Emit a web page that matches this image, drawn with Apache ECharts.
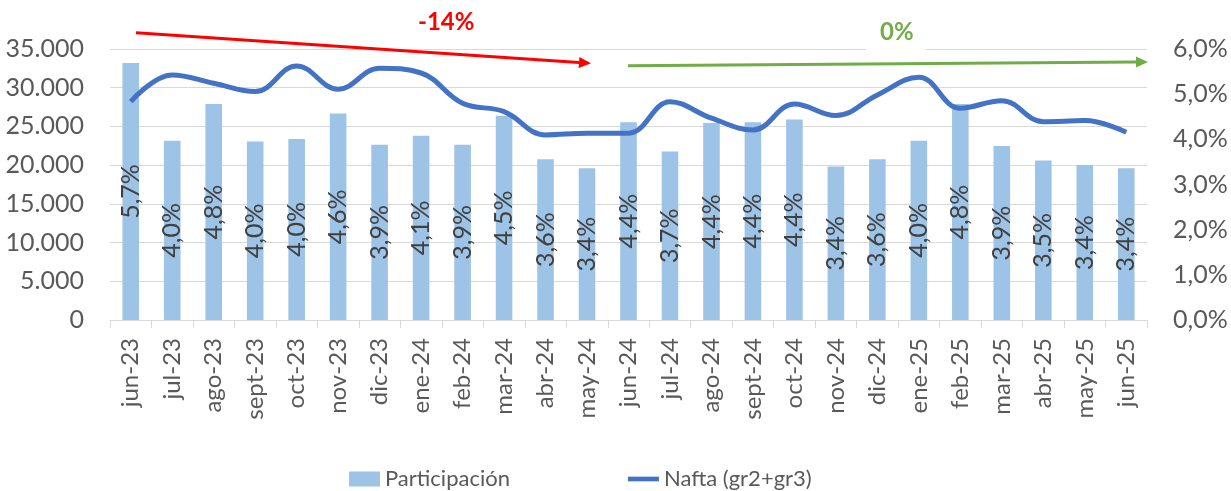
<!DOCTYPE html>
<html>
<head>
<meta charset="utf-8">
<script src="https://cdn.jsdelivr.net/npm/echarts@6/dist/echarts.min.js"></script>
<style>
html,body{margin:0;padding:0;background:#fff;}
#chart{width:1231px;height:491px;}
</style>
</head>
<body>
<div id="chart"></div>
<script>
const categories = ['jun-23','jul-23','ago-23','sept-23','oct-23','nov-23','dic-23','ene-24','feb-24','mar-24','abr-24','may-24','jun-24','jul-24','ago-24','sept-24','oct-24','nov-24','dic-24','ene-25','feb-25','mar-25','abr-25','may-25','jun-25'];
const participacion = [5.69,3.97,4.78,3.95,4.01,4.57,3.88,4.08,3.88,4.52,3.56,3.36,4.38,3.73,4.36,4.38,4.44,3.40,3.56,3.97,4.78,3.85,3.53,3.43,3.36];
const nafta = [28200,31650,30580,29500,32820,29800,32520,31900,28000,26910,23900,24120,24120,28200,26060,24550,27900,26400,29070,31360,27350,28330,25620,25750,24250];
const seriesNames = ['Participación','Nafta (gr2+gr3)'];
const annotations = ['-14%','0%'];

const FONT = 'Lato, "Open Sans", sans-serif';
const chart = echarts.init(document.getElementById('chart'), null, {renderer:'canvas'});

function arrow(x1,y1,x2,y2,color){
  const ang = Math.atan2(y2-y1,x2-x1);
  const L = 12, W = 5.5;
  const bx = x2 - L*Math.cos(ang), by = y2 - L*Math.sin(ang);
  const px = -Math.sin(ang)*W, py = Math.cos(ang)*W;
  return [
    {type:'line', shape:{x1:x1,y1:y1,x2:bx,y2:by}, style:{stroke:color,lineWidth:3}, z:100},
    {type:'polygon', shape:{points:[[x2,y2],[bx+px,by+py],[bx-px,by-py]]}, style:{fill:color}, z:100}
  ];
}

const option = {
  backgroundColor:'#ffffff',
  animation:false,
  textStyle:{fontFamily:FONT},
  grid:{left:110, right:84, top:49, bottom:171, containLabel:false},
  legend:{
    left:344, top:463,
    itemWidth:31, itemHeight:15, itemGap:118,
    textStyle:{color:'#595959', fontSize:22, fontFamily:FONT},
    data:[{name:seriesNames[0], icon:'rect'},
          {name:seriesNames[1], icon:'path://M0,0 L33,0 L33,5 L0,5 Z'}]
  },
  xAxis:{
    type:'category', data:categories, boundaryGap:true,
    axisLine:{lineStyle:{color:'#D9D9D9', width:1}},
    axisTick:{show:true, length:8, lineStyle:{color:'#D9D9D9'}},
    axisLabel:{rotate:90, color:'#595959', fontSize:24, margin:18, fontFamily:FONT, interval:0}
  },
  yAxis:[
    {type:'value', min:0, max:35000, interval:5000, position:'left',
     axisLine:{show:false}, axisTick:{show:false},
     splitLine:{lineStyle:{color:'#D9D9D9', width:1}},
     axisLabel:{color:'#595959', fontSize:25, margin:26, fontFamily:FONT,
       formatter:v=>v===0?'0':String(v).replace(/\B(?=(\d{3})+(?!\d))/g,'.')}},
    {type:'value', min:0, max:6, interval:1, position:'right',
     axisLine:{show:false}, axisTick:{show:false}, splitLine:{show:false},
     axisLabel:{color:'#595959', fontSize:25, margin:26, fontFamily:FONT,
       formatter:v=>v.toFixed(1).replace('.',',')+'%'}}
  ],
  series:[
    {name:seriesNames[0], type:'bar', yAxisIndex:1, data:participacion, barWidth:'40%',
     itemStyle:{color:'#9DC3E6'},
     label:{show:true, position:'inside', rotate:90, color:'#404040', fontSize:25, fontFamily:FONT,
       formatter:p=>p.value.toFixed(1).replace('.',',')+'%'},
     z:2},
    {name:seriesNames[1], type:'line', yAxisIndex:0, data:nafta, smooth:0.4, symbol:'none',
     lineStyle:{color:'#4472C4', width:5}, itemStyle:{color:'#4472C4'}, z:3}
  ],
  graphic:[
    ...arrow(136,32.7,591,63.3,'#FF0000'),
    ...arrow(628,65.7,1148,62,'#70AD47'),
    {type:'text', left:418, top:10, style:{text:annotations[0], fill:'#FF0000', font:'bold 24px '+FONT}, z:100},
    {type:'rect', shape:{x:866,y:22,width:60,height:30}, style:{fill:'#ffffff'}, z:90},
    {type:'text', left:880, top:20, style:{text:annotations[1], fill:'#70AD47', font:'bold 24px '+FONT}, z:100}
  ]
};
chart.setOption(option);
</script>
</body>
</html>
